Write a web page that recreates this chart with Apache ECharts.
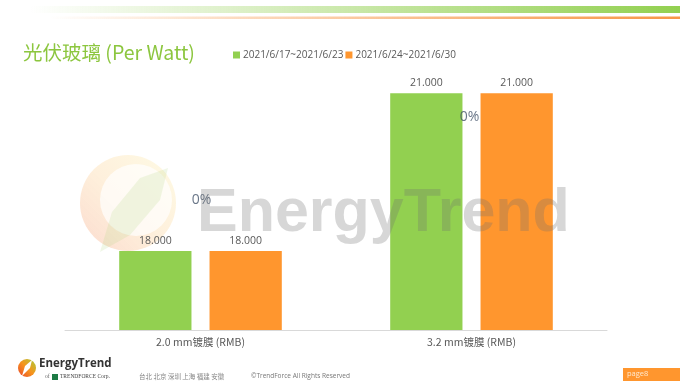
<!DOCTYPE html>
<html><head><meta charset="utf-8">
<script src="https://cdn.jsdelivr.net/npm/echarts@6/dist/echarts.min.js"></script>
<style>html,body{margin:0;padding:0;background:#fff}#c{width:680px;height:389px}</style>
</head><body><div id="c"></div>
<script>
var categories = ['2.0 mm镀膜 (RMB)', '3.2 mm镀膜 (RMB)'];
var seriesNames = ['2021/6/17~2021/6/23', '2021/6/24~2021/6/30'];
var week1 = [18.000, 21.000];
var week2 = [18.000, 21.000];
var change = [0, 0];

var GREEN = '#92D050', ORANGE = '#FF962E';
var chart = echarts.init(document.getElementById('c'));
var changeOffsets = [[1, 2], [-2, -81]];

chart.setOption({
  animation: false,
  title: {
    text: '光伏玻璃 (Per Watt)', left: 18, top: 38,
    textStyle: { color: '#8CC63F', fontSize: 19.5, fontWeight: 'normal', fontFamily: 'Noto Sans CJK SC, Noto Sans, sans-serif' }
  },
  legend: {
    left: 228, top: 45, itemWidth: 7, itemHeight: 7, itemGap: 2,
    icon: 'rect',
    data: seriesNames,
    textStyle: { color: '#595959', fontSize: 10, fontFamily: 'Open Sans, Noto Sans, sans-serif', padding: [0, 0, 0, -2] }
  },
  grid: { left: 65, right: 73, top: 67, bottom: 59 },
  xAxis: {
    type: 'category', data: categories,
    axisTick: { show: false },
    axisLine: { onZero: false, lineStyle: { color: '#D9D9D9' } },
    axisLabel: { color: '#595959', fontSize: 10.5, margin: 7, fontFamily: 'Noto Sans CJK SC, sans-serif' }
  },
  yAxis: [
    { type: 'value', min: 16.5, max: 21.5, show: false },
    { type: 'value', min: -1, max: 1, show: false }
  ],
  series: [
    {
      name: seriesNames[0], type: 'bar', data: week1, barGap: '25%', barCategoryGap: '40%',
      itemStyle: { color: GREEN },
      label: { show: true, position: 'top', distance: 5, color: '#595959', fontSize: 10.5,
        fontFamily: 'Open Sans, sans-serif', formatter: function (p) { return p.value.toFixed(3); } }
    },
    {
      name: seriesNames[1], type: 'bar', data: week2,
      itemStyle: { color: ORANGE },
      label: { show: true, position: 'top', distance: 5, color: '#595959', fontSize: 10.5,
        fontFamily: 'Open Sans, sans-serif', formatter: function (p) { return p.value.toFixed(3); } }
    },
    {
      type: 'scatter', yAxisIndex: 1, symbolSize: 0, silent: true, z: 5,
      data: change.map(function (v, i) {
        return { value: [i, v], label: { offset: changeOffsets[i] } };
      }),
      label: { show: true, position: 'inside', color: '#44546A', fontSize: 14,
        fontFamily: 'Open Sans, sans-serif', formatter: function (p) { return Math.round(p.value[1] * 100) + '%'; } }
    }
  ],
  graphic: [
    { type: 'rect', shape: { x: 30, y: 6, width: 650, height: 7 }, z: -1,
      style: { fill: new echarts.graphic.LinearGradient(0, 0, 1, 0, [
        { offset: 0, color: 'rgba(146,208,80,0)' }, { offset: 0.35, color: 'rgba(146,208,80,0.35)' }, { offset: 1, color: 'rgba(146,208,80,1)' }]) } },
    { type: 'rect', shape: { x: 50, y: 16.5, width: 630, height: 2.5 }, z: -1,
      style: { fill: new echarts.graphic.LinearGradient(0, 0, 1, 0, [
        { offset: 0, color: 'rgba(247,150,70,0)' }, { offset: 0.3, color: 'rgba(247,150,70,0.35)' }, { offset: 1, color: 'rgba(247,150,70,1)' }]) } },
    // watermark logo
    { type: 'circle', shape: { cx: 128, cy: 203, r: 48 }, z: -1,
      style: { fill: new echarts.graphic.LinearGradient(0, 1, 1, 0, [
        { offset: 0, color: 'rgba(240,110,60,0.25)' }, { offset: 0.5, color: 'rgba(250,180,80,0.2)' }, { offset: 1, color: 'rgba(250,230,120,0.2)' }]) } },
    { type: 'circle', shape: { cx: 136, cy: 200, r: 36 }, z: -1, style: { fill: 'rgba(255,255,255,0.7)' } },
    { type: 'polygon', shape: { points: [[100, 252], [112, 212], [140, 178], [168, 168], [160, 200], [130, 235]] }, z: -1,
      style: { fill: 'rgba(170,210,120,0.18)' } },
    { type: 'text', left: 197, top: 184, z: 100, silent: true,
      style: { text: 'EnergyTrend', fill: 'rgba(110,110,110,0.28)', fontSize: 61, fontWeight: 'bold', fontFamily: 'Liberation Sans, Arial, sans-serif' } },
    // footer
    { type: 'circle', shape: { cx: 27, cy: 368, r: 9 },
      style: { fill: new echarts.graphic.LinearGradient(0, 1, 1, 0, [
        { offset: 0, color: '#E8452C' }, { offset: 0.5, color: '#F7941D' }, { offset: 1, color: '#A6CE39' }]) } },
    { type: 'polygon', shape: { points: [[22, 376], [25, 366], [32, 360], [30, 368]] }, style: { fill: '#fff' } },
    { type: 'text', left: 39, top: 358, style: { text: 'EnergyTrend', fill: '#333', fontSize: 11.5, fontWeight: 'bold', fontFamily: 'Open Sans, sans-serif' } },
    { type: 'text', left: 45, top: 374, style: { text: 'of', fill: '#666', fontSize: 5.5, fontFamily: 'Liberation Serif, serif' } },
    { type: 'rect', shape: { x: 52, y: 374, width: 6, height: 6 }, style: { fill: '#1D7B45' } },
    { type: 'text', left: 60, top: 374, style: { text: 'TRENDFORCE Corp.', fill: '#444', fontSize: 5.5, fontFamily: 'Liberation Serif, serif' } },
    { type: 'text', left: 139, top: 373, style: { text: '台北 北京 深圳 上海 福建 安徽', fill: '#888', fontSize: 6.5, fontFamily: 'Noto Sans CJK SC, sans-serif' } },
    { type: 'text', left: 251, top: 373, style: { text: '©TrendForce All Rights Reserved', fill: '#777', fontSize: 6.5, fontFamily: 'Open Sans, sans-serif' } },
    { type: 'rect', shape: { x: 623, y: 368, width: 57, height: 13 }, style: { fill: '#FF962E' } },
    { type: 'text', left: 627, top: 370, style: { text: 'page8', fill: '#FFE8CC', fontSize: 7.5, fontFamily: 'Open Sans, sans-serif' } }
  ]
});
</script></body></html>
